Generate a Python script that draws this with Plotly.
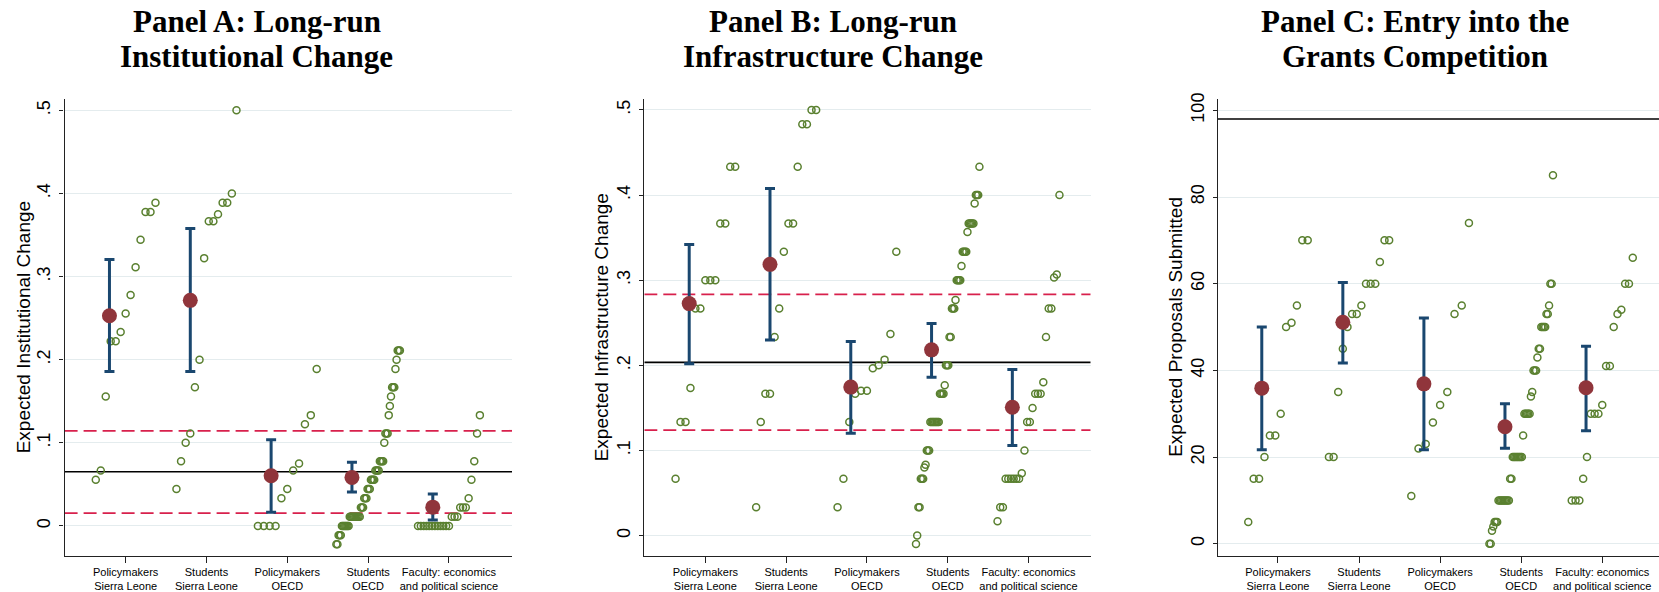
import plotly.graph_objects as go

# ---------------- data ----------------
categories = ["Policymakers<br>Sierra Leone", "Students<br>Sierra Leone", "Policymakers<br>OECD",
              "Students<br>OECD", "Faculty: economics<br>and political science"]

# Panel A: Long-run institutional change
inst_pm_sl = [0.0556, 0.0667, 0.1556, 0.2222, 0.2222, 0.2333, 0.2556, 0.2778, 0.3111, 0.3444, 0.3778, 0.3778, 0.3889]
inst_st_sl = [0.0444, 0.0778, 0.1, 0.1111, 0.1667, 0.2, 0.3222, 0.3667, 0.3667, 0.375, 0.3889, 0.3889, 0.4, 0.5]
inst_pm_oecd = [0, 0, 0, 0, 0.0333, 0.0444, 0.0667, 0.075, 0.1222, 0.1333, 0.1889]
inst_st_oecd = [-0.0222, -0.0222, -0.0111, -0.0111, -0.0111, 0, 0, 0, 0, 0, 0, 0,
                0.0111, 0.0111, 0.0111, 0.0111, 0.0111, 0.0111, 0.0111, 0.0111, 0.0111, 0.0111,
                0.0222, 0.0222, 0.0222, 0.0333, 0.0333, 0.0333, 0.0444, 0.0444, 0.0444,
                0.0556, 0.0556, 0.0556, 0.0556, 0.0667, 0.0667, 0.0667, 0.0667,
                0.0778, 0.0778, 0.0778, 0.0778, 0.1, 0.1111, 0.1111, 0.1111,
                0.1333, 0.1444, 0.1556, 0.1667, 0.1667, 0.1667, 0.1889, 0.2, 0.2111, 0.2111, 0.2111]
inst_faculty = [0, 0, 0, 0, 0, 0, 0, 0, 0, 0, 0, 0, 0.0111, 0.0111, 0.0111, 0.0222, 0.0222, 0.0222,
                0.0333, 0.0556, 0.0778, 0.1111, 0.1333]
inst_mean = [0.2528, 0.2714, 0.0603, 0.0584, 0.0226]
inst_ci_lo = [0.1859, 0.1859, 0.0163, 0.0409, 0.0072]
inst_ci_hi = [0.3206, 0.3579, 0.1037, 0.0767, 0.0385]
inst_solid = 0.0652
inst_dashed = [0.0155, 0.1144]
inst_ticks = [0, 0.1, 0.2, 0.3, 0.4, 0.5]
inst_ticktext = ["0", ".1", ".2", ".3", ".4", ".5"]

# Panel B: Long-run infrastructure change
infra_pm_sl = [0.0667, 0.1333, 0.1333, 0.1733, 0.2667, 0.2667, 0.3, 0.3, 0.3, 0.3667, 0.3667, 0.4333, 0.4333]
infra_st_sl = [0.0333, 0.1333, 0.1667, 0.1667, 0.2333, 0.2667, 0.3333, 0.3667, 0.3667, 0.4333, 0.4833, 0.4833, 0.5, 0.5]
infra_pm_oecd = [0.0333, 0.0667, 0.1333, 0.1667, 0.17, 0.17, 0.1967, 0.2, 0.2067, 0.2367, 0.3333]
infra_st_oecd = [-0.01, 0, 0.0333, 0.0333, 0.0667, 0.0667, 0.0667, 0.08, 0.0833, 0.1, 0.1, 0.1,
                 0.1333, 0.1333, 0.1333, 0.1333, 0.1333, 0.1333, 0.1333, 0.1333,
                 0.1667, 0.1667, 0.1667, 0.1667, 0.1767, 0.2, 0.2, 0.2, 0.2333, 0.2333,
                 0.2667, 0.2667, 0.2667, 0.2767, 0.3, 0.3, 0.3, 0.3, 0.3167,
                 0.3333, 0.3333, 0.3333, 0.3333, 0.3567, 0.3667, 0.3667, 0.3667, 0.3667, 0.3667,
                 0.39, 0.4, 0.4, 0.4, 0.4333]
infra_faculty = [0.0167, 0.0333, 0.0333, 0.0667, 0.0667, 0.0667, 0.0667, 0.0667, 0.0667, 0.0733, 0.1,
                 0.1333, 0.1333, 0.15, 0.1667, 0.1667, 0.1667, 0.18, 0.2333, 0.2667, 0.2667,
                 0.3033, 0.3067, 0.4]
infra_mean = [0.2725, 0.3186, 0.1744, 0.2182, 0.1508]
infra_ci_lo = [0.202, 0.2298, 0.1202, 0.186, 0.1058]
infra_ci_hi = [0.3419, 0.4078, 0.2279, 0.2492, 0.195]
infra_solid = 0.2035
infra_dashed = [0.124, 0.2834]
infra_ticks = [0, 0.1, 0.2, 0.3, 0.4, 0.5]
infra_ticktext = ["0", ".1", ".2", ".3", ".4", ".5"]

# Panel C: Entry into the grants competition
prop_pm_sl = [5, 15, 15, 20, 25, 25, 30, 50, 51, 55, 70, 70]
prop_st_sl = [20, 20, 35, 45, 50, 53, 53, 55, 60, 60, 60, 65, 70, 70]
prop_pm_oecd = [11, 22, 23, 28, 32, 35, 53, 55, 74]
prop_st_oecd = [0, 0, 3, 4, 5, 5, 5, 10, 10, 10, 10, 10, 10, 10, 10, 10, 15, 15,
                20, 20, 20, 20, 20, 20, 20, 20, 25, 30, 30, 30, 30, 30, 34, 35, 40, 40, 40,
                43, 45, 45, 50, 50, 50, 50, 53, 53, 55, 60, 60, 85]
prop_faculty = [10, 10, 10, 15, 20, 30, 30, 30, 32, 41, 41, 50, 53, 54, 60, 60, 66]
prop_mean = [35.9, 51.1, 36.9, 27.0, 36.0]
prop_ci_lo = [21.7, 41.7, 21.7, 22.05, 26.1]
prop_ci_hi = [50.0, 60.3, 52.1, 32.3, 45.6]
prop_solid = 98
prop_ticks = [0, 20, 40, 60, 80, 100]
prop_ticktext = ["0", "20", "40", "60", "80", "100"]

panels = [
    dict(title=["Panel A: Long-run", "Institutional Change"], ytitle="Expected Institutional Change",
         groups=[inst_pm_sl, inst_st_sl, inst_pm_oecd, inst_st_oecd, inst_faculty],
         mean=inst_mean, lo=inst_ci_lo, hi=inst_ci_hi, solid=inst_solid, dashed=inst_dashed,
         ticks=inst_ticks, ticktext=inst_ticktext, yrange=[-0.0358, 0.5136],
         xdom=[64.6, 512.0], xrange=[0.245, 5.78], title_x=256.6, ytitle_x=23),
    dict(title=["Panel B: Long-run", "Infrastructure Change"], ytitle="Expected Infrastructure Change",
         groups=[infra_pm_sl, infra_st_sl, infra_pm_oecd, infra_st_oecd, infra_faculty],
         mean=infra_mean, lo=infra_ci_lo, hi=infra_ci_hi, solid=infra_solid, dashed=infra_dashed,
         ticks=infra_ticks, ticktext=infra_ticktext, yrange=[-0.0236, 0.5128],
         xdom=[644.3, 1090.7], xrange=[0.244, 5.77], title_x=833, ytitle_x=601),
    dict(title=["Panel C: Entry into the", "Grants Competition"], ytitle="Expected Proposals Submitted",
         groups=[prop_pm_sl, prop_st_sl, prop_pm_oecd, prop_st_oecd, prop_faculty],
         mean=prop_mean, lo=prop_ci_lo, hi=prop_ci_hi, solid=prop_solid, dashed=[],
         ticks=prop_ticks, ticktext=prop_ticktext, yrange=[-2.74, 102.6],
         xdom=[1218.0, 1659.0], xrange=[0.26, 5.70], title_x=1415, ytitle_x=1175.5),
]

# ---------------- figure ----------------
W, H = 1659, 592
GREEN = "#5a8030"
NAVY = "#1a476f"
MAROON = "#90353b"
CRIMSON = "#d8204c"
GRID = "#e4ecee"
SANS = "Liberation Sans, Arial, sans-serif"
SERIF = "Liberation Serif, Times New Roman, serif"

plot_top, plot_bot = 94.0, 555.3
ydom = [(H - plot_bot) / H, (H - plot_top) / H]

fig = go.Figure()
shapes, annotations = [], []
axes = {}

for p_i, p in enumerate(panels):
    sfx = "" if p_i == 0 else str(p_i + 1)
    xa, ya = "x" + sfx, "y" + sfx

    # individual responses, spread by rank within each group
    xs, ys = [], []
    for g_i, vals in enumerate(p["groups"]):
        n = len(vals)
        svals = sorted(vals)
        for k, v in enumerate(svals):
            xs.append(g_i + 1 + (k - (n - 1) / 2) / n * 0.8)
            ys.append(v)
    fig.add_trace(go.Scatter(x=xs, y=ys, mode="markers", xaxis=xa, yaxis=ya,
                             marker=dict(symbol="circle-open", size=7, color=GREEN,
                                         line=dict(width=1.5, color=GREEN)),
                             hoverinfo="skip"))

    # means with confidence intervals
    mx = [i + 1 - 0.2 for i in range(len(p["mean"]))]
    fig.add_trace(go.Scatter(
        x=mx, y=p["mean"], mode="markers", xaxis=xa, yaxis=ya,
        marker=dict(symbol="circle", size=15, color=MAROON),
        error_y=dict(type="data", symmetric=False,
                     array=[h - m for h, m in zip(p["hi"], p["mean"])],
                     arrayminus=[m - l for m, l in zip(p["mean"], p["lo"])],
                     color=NAVY, thickness=3, width=5),
        hoverinfo="skip"))

    # reference lines
    x0, x1 = p["xrange"]
    shapes.append(dict(type="line", xref=xa, yref=ya, x0=x0, x1=x1,
                       y0=p["solid"], y1=p["solid"], layer="below",
                       line=dict(color="black", width=1.6)))
    for d in p["dashed"]:
        shapes.append(dict(type="line", xref=xa, yref=ya, x0=x0, x1=x1,
                           y0=d, y1=d, layer="below",
                           line=dict(color=CRIMSON, width=1.8, dash="13px,6px")))

    axes["xaxis" + sfx] = dict(domain=[p["xdom"][0] / W, min(1.0, p["xdom"][1] / W)], range=p["xrange"],
                               anchor=ya, tickmode="array", tickvals=[1, 2, 3, 4, 5], ticktext=categories,
                               ticks="outside", ticklen=6, tickwidth=1.2, tickcolor="#222",
                               showline=True, linecolor="#222", linewidth=1.3,
                               showgrid=False, zeroline=False,
                               tickfont=dict(family=SANS, size=11, color="black"))
    axes["yaxis" + sfx] = dict(domain=ydom, range=p["yrange"], anchor=xa, tickmode="array",
                               tickvals=p["ticks"], ticktext=p["ticktext"], tickangle=-90,
                               ticks="outside", ticklen=4, tickwidth=1.2, tickcolor="#222",
                               ticklabelstandoff=2,
                               showline=True, linecolor="#222", linewidth=1.3,
                               showgrid=True, gridcolor=GRID, gridwidth=1, zeroline=False,
                               tickfont=dict(family=SANS, size=18, color="black"))

    # titles
    for line_i, txt in enumerate(p["title"]):
        annotations.append(dict(
            text="<b>" + txt + "</b>", xref="paper", yref="paper",
            x=p["title_x"] / W, y=1 - (16 + 35 * line_i) / H,
            xanchor="center", yanchor="middle", showarrow=False,
            font=dict(family=SERIF, size=31, color="black")))
    annotations.append(dict(
        text=p["ytitle"], xref="paper", yref="paper", x=p["ytitle_x"] / W,
        y=1 - (plot_top + plot_bot) / 2 / H, xanchor="center", yanchor="middle",
        textangle=-90, showarrow=False, font=dict(family=SANS, size=19, color="black")))

fig.update_layout(width=W, height=H, margin=dict(l=0, r=0, t=0, b=0),
                  paper_bgcolor="white", plot_bgcolor="white", showlegend=False,
                  shapes=shapes, annotations=annotations, **axes)
fig.write_html("out.html", config={"displayModeBar": False},
               post_script="document.body.style.margin='0';document.body.style.padding='0';"
                           "document.documentElement.style.overflow='hidden';")
